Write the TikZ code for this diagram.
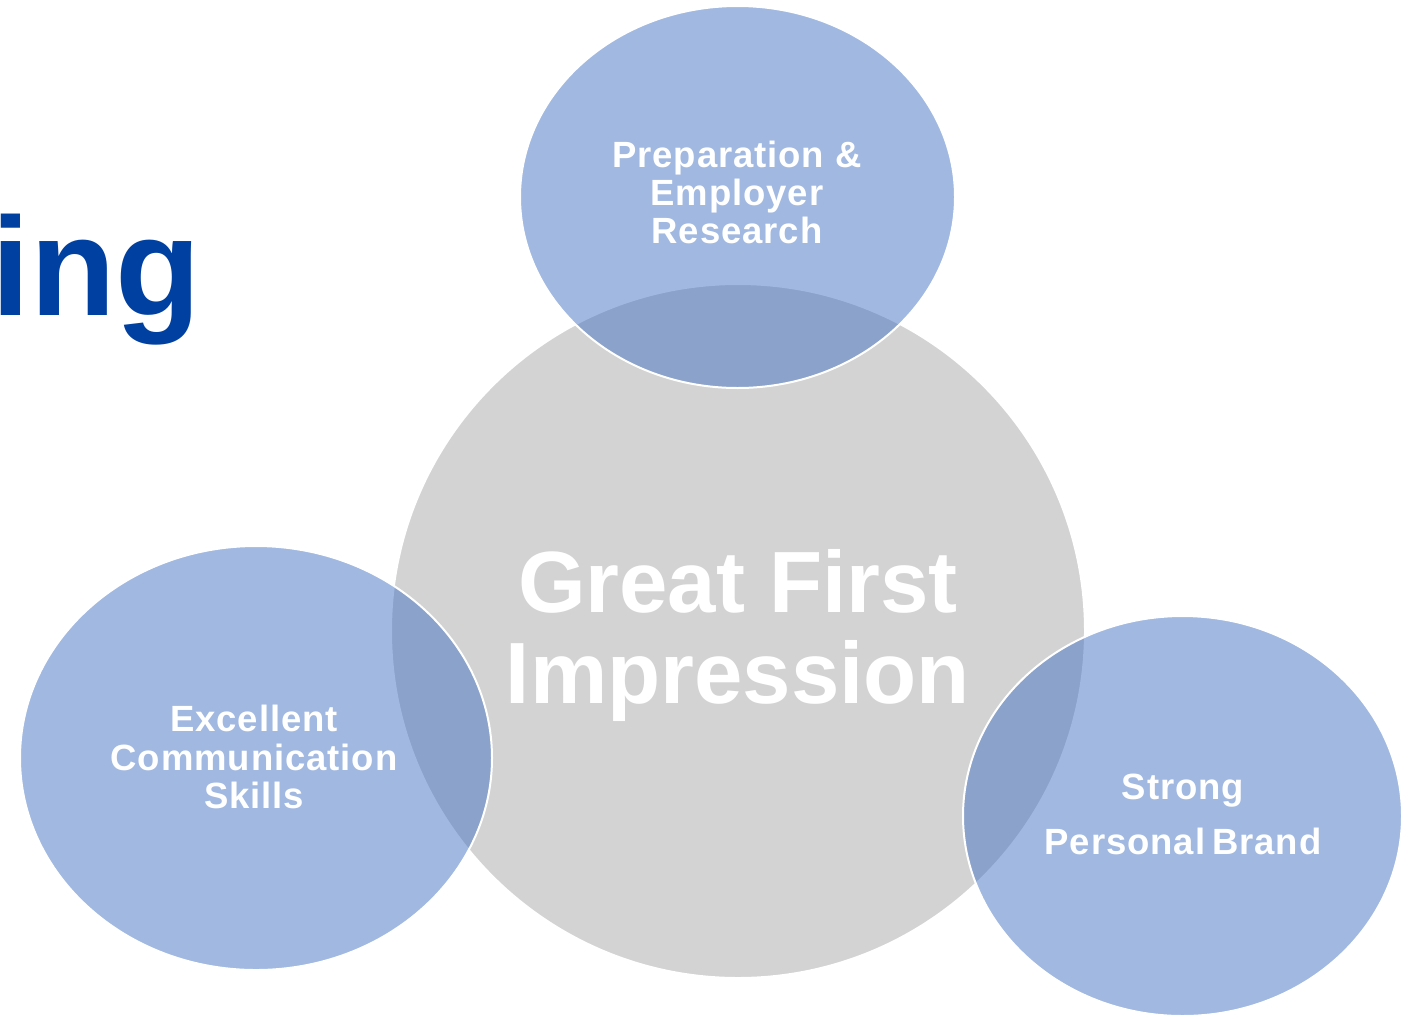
\documentclass[tikz,border=0pt]{standalone}
\usepackage{fontspec}
\setmainfont{Liberation Sans}
\usetikzlibrary{shapes.geometric}
\definecolor{ringgray}{RGB}{211,211,211}
\definecolor{accentblue}{RGB}{68,114,196}
\definecolor{titleblue}{RGB}{0,64,160}
\tikzset{
  bigcircle/.style={circle, fill=ringgray, draw=white, line width=2pt, inner sep=0pt, minimum size=694pt},
  blob/.style={ellipse, fill=accentblue, fill opacity=0.5, draw=white, draw opacity=1, line width=2pt, inner sep=0pt},
  smalltxt/.style={text=white, anchor=base, inner sep=0pt, font=\fontsize{36.5}{38}\selectfont\bfseries\addfontfeature{LetterSpace=2.5}},
  bigtxt/.style={text=white, anchor=base, inner sep=0pt, font=\fontsize{87}{91}\selectfont\bfseries},
}
\begin{document}
\begin{tikzpicture}[x=1pt,y=-1pt]
\useasboundingbox (0,0) rectangle (1415,1018);
\fill[white] (0,0) rectangle (1415,1018);
% title fragment
\node[anchor=base west, inner sep=0pt, text=titleblue, font=\fontsize{140}{142}\selectfont\bfseries] (title) at (-9,315) {ing};
% central circle
\node[bigcircle] (center) at (738,631) {};
% satellites
\node[blob, minimum width=435pt, minimum height=382pt] (top) at (737.5,197) {};
\node[blob, minimum width=472pt, minimum height=424pt] (left) at (256,758) {};
\node[blob, minimum width=439pt, minimum height=400pt] (right) at (1182.5,816) {};
% texts
\node[bigtxt] (c1) at (738,612) {Great First};
\node[bigtxt] (c2) at (738,703) {Impression};
\node[smalltxt] (t1) at (737,167) {Preparation \&};
\node[smalltxt] (t2) at (737,205) {Employer};
\node[smalltxt] (t3) at (737,243) {Research};
\node[smalltxt] (l1) at (254,731) {Excellent};
\node[smalltxt] (l2) at (254,770) {Communication};
\node[smalltxt] (l3) at (254,808) {Skills};
\node[smalltxt] (r1) at (1183,799) {Strong};
\node[smalltxt] (r2) at (1183,854) {Personal\hspace{-4pt} Brand};
\end{tikzpicture}
\end{document}
